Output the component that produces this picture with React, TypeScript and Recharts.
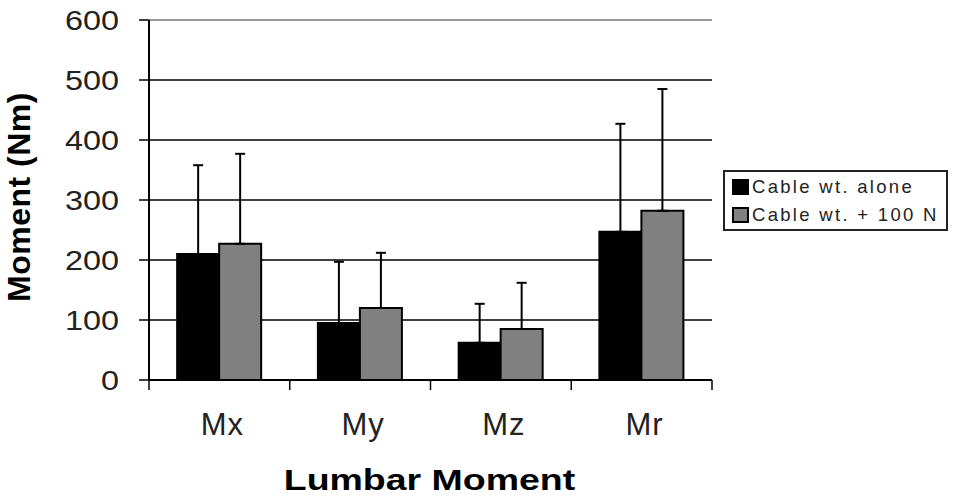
import {
  Bar,
  BarChart,
  CartesianGrid,
  ErrorBar,
  Legend,
  ReferenceLine,
  XAxis,
  YAxis,
} from "recharts";

const categories = ["Mx", "My", "Mz", "Mr"];
const cableAlone = [210, 95, 62, 247];
const cablePlus100 = [227, 120, 85, 282];
// upper error only (SD), drawn from the bar top
const cableAloneSD = [148, 102, 65, 180];
const cablePlus100SD = [150, 92, 77, 203];
const yTicks = [0, 100, 200, 300, 400, 500, 600];

const seriesNames = ["Cable wt. alone", "Cable wt. + 100 N"];
const seriesColors = ["#000000", "#808080"];

const FONT = '"Liberation Sans", Arial, sans-serif';

const data = categories.map((cat, i) => ({
  cat,
  alone: cableAlone[i],
  plus: cablePlus100[i],
  aloneErr: [0, cableAloneSD[i]],
  plusErr: [0, cablePlus100SD[i]],
}));

function CategoryTick(props: any) {
  const { x, y, payload, index, visibleTicksCount } = props;
  const half = payload?.offset ?? 70;
  const last = index === visibleTicksCount - 1;
  return (
    <g>
      <line x1={x - half} x2={x - half} y1={y} y2={y + 10} stroke="#000" strokeWidth={1.5} />
      {last && (
        <line x1={x + half} x2={x + half} y1={y} y2={y + 10} stroke="#000" strokeWidth={1.5} />
      )}
      <text
        x={x + 3}
        y={y + 55}
        textAnchor="middle"
        fontSize={31}
        letterSpacing={1}
        fill="#222"
        fontFamily={FONT}
      >
        {payload.value}
      </text>
    </g>
  );
}

function ValueTick(props: any) {
  const { x, y, payload } = props;
  // source font is horizontally stretched
  return (
    <text
      transform={`translate(${x - 2} ${y}) scale(1.2 1)`}
      dy="0.36em"
      textAnchor="end"
      fontSize={27}
      fill="#222"
      fontFamily={FONT}
    >
      {payload.value}
    </text>
  );
}

function YTitle(props: any) {
  const vb = props.viewBox || { x: 0, y: 20, width: 149, height: 360 };
  const cx = vb.x + 30;
  const cy = vb.y + vb.height / 2 - 3;
  return (
    <text
      x={cx}
      y={cy}
      transform={`rotate(-90 ${cx} ${cy})`}
      textAnchor="middle"
      fontSize={32}
      fontWeight="bold"
      letterSpacing={0.5}
      fill="#000"
      fontFamily={FONT}
    >
      Moment (Nm)
    </text>
  );
}

function XTitle(props: any) {
  const vb = props.viewBox || { x: 149, y: 380, width: 563, height: 119 };
  const cx = vb.x + vb.width / 2 - 1;
  return (
    <text
      transform={`translate(${cx} ${vb.y + 110}) scale(1.25 1)`}
      textAnchor="middle"
      fontSize={30}
      fontWeight="bold"
      fill="#000"
      fontFamily={FONT}
    >
      Lumbar Moment
    </text>
  );
}

function LegendBox() {
  return (
    <div
      style={{
        border: "2px solid #222",
        background: "#fff",
        width: 225,
        height: 61,
        boxSizing: "border-box",
        display: "flex",
        flexDirection: "column",
        justifyContent: "center",
        gap: 8,
        paddingLeft: 7,
        fontFamily: FONT,
        fontSize: 18.5,
        letterSpacing: 2.3,
        color: "#222",
        whiteSpace: "nowrap",
      }}
    >
      {seriesNames.map((name, i) => (
        <div key={name} style={{ display: "flex", alignItems: "center", height: 20 }}>
          <span
            style={{
              display: "inline-block",
              width: 13,
              height: 12,
              background: seriesColors[i],
              border: "2px solid #000",
              marginRight: 3,
            }}
          />
          <span>{name}</span>
        </div>
      ))}
    </div>
  );
}

export default function App() {
  return (
    <div style={{ position: "absolute", left: 0, top: 0, background: "#fff" }}>
      <BarChart
        width={954}
        height={499}
        data={data}
        margin={{ top: 20, right: 242, bottom: 0, left: 0 }}
        barCategoryGap="20%"
        barGap={0}
      >
        <CartesianGrid vertical={false} stroke="#000" strokeWidth={1.5} />
        <ReferenceLine y={600} stroke="#999" strokeWidth={2} />
        <XAxis
          dataKey="cat"
          height={119}
          axisLine={{ stroke: "#000", strokeWidth: 2 }}
          tickLine={false}
          tickSize={0}
          tickMargin={0}
          tick={<CategoryTick />}
          interval={0}
          label={{ content: (p: any) => <XTitle {...p} /> }}
        />
        <YAxis
          width={149}
          domain={[0, 600]}
          ticks={yTicks}
          interval={0}
          axisLine={{ stroke: "#000", strokeWidth: 2 }}
          tickLine={{ stroke: "#000", strokeWidth: 1.5 }}
          tickSize={10}
          tickMargin={18}
          tick={<ValueTick />}
          label={{ content: (p: any) => <YTitle {...p} /> }}
        />
        <YAxis
          yAxisId="r"
          orientation="right"
          width={0}
          tick={false}
          tickLine={false}
          axisLine={{ stroke: "#999", strokeWidth: 2 }}
        />
        <Legend
          layout="vertical"
          align="center"
          verticalAlign="middle"
          content={() => <LegendBox />}
          wrapperStyle={{ left: 723, top: 170, width: 225, height: 61 }}
        />
        <Bar
          dataKey="alone"
          name={seriesNames[0]}
          fill={seriesColors[0]}
          stroke="#000"
          strokeWidth={2}
          isAnimationActive={false}
        >
          <ErrorBar dataKey="aloneErr" direction="y" width={5} stroke="#000" strokeWidth={2} />
        </Bar>
        <Bar
          dataKey="plus"
          name={seriesNames[1]}
          fill={seriesColors[1]}
          stroke="#000"
          strokeWidth={2}
          isAnimationActive={false}
        >
          <ErrorBar dataKey="plusErr" direction="y" width={5} stroke="#000" strokeWidth={2} />
        </Bar>
      </BarChart>
    </div>
  );
}
